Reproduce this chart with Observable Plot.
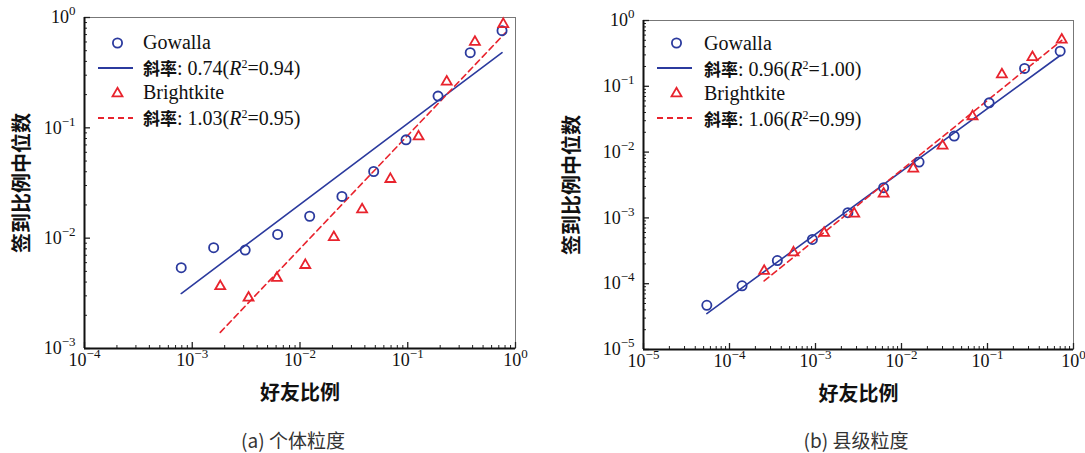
<!DOCTYPE html>
<html><head><meta charset="utf-8">
<script src="https://cdn.jsdelivr.net/npm/d3@7"></script>
<script src="https://cdn.jsdelivr.net/npm/@observablehq/plot@0.6"></script>
<style>
body{margin:0;background:#fff;}
#wrap{position:relative;width:1085px;height:453px;overflow:hidden;background:#fff;}
.panel{position:absolute;top:0;}
.legend{position:absolute;font-family:"Liberation Serif","Times New Roman",serif;font-size:20px;color:#111;}
.row{position:absolute;left:0;height:25px;display:flex;align-items:center;white-space:nowrap;}
.row svg{flex:none;}
.cjk{font-family:"Noto Sans CJK SC",sans-serif;font-weight:700;font-size:17px;}
.row sup{font-size:0.6em;vertical-align:0.55em;line-height:0;}
.caption{position:absolute;top:427px;font-family:"Noto Sans CJK SC",sans-serif;font-size:19px;line-height:26px;color:#333;transform:translateX(-50%);white-space:nowrap;}
</style></head><body><div id="wrap"></div>
<script>
// ---------- data ----------
const seriesNames = ["Gowalla", "Brightkite"];
const blue = "#2b3a9e", red = "#e8232d";

// (a) individual granularity
const gowallaIndX = [7.9e-4, 1.58e-3, 3.1e-3, 6.2e-3, 0.0123, 0.0245, 0.0483, 0.0964, 0.191, 0.38, 0.75];
const gowallaIndY = [5.4e-3, 8.2e-3, 7.8e-3, 0.0108, 0.0158, 0.0239, 0.0402, 0.0778, 0.194, 0.48, 0.76];
const brightIndX = [1.82e-3, 3.33e-3, 6.1e-3, 0.0112, 0.0206, 0.0377, 0.069, 0.126, 0.23, 0.42, 0.77];
const brightIndY = [3.66e-3, 2.88e-3, 4.35e-3, 5.7e-3, 0.0102, 0.0182, 0.0343, 0.0833, 0.262, 0.6, 0.87];
const gowallaIndFitX = [7.9e-4, 0.75];
const gowallaIndFitY = [3.15e-3, 0.48];
const brightIndFitX = [1.82e-3, 0.81];
const brightIndFitY = [1.4e-3, 0.73];
const indSlopes = ["0.74", "1.03"], indR2 = ["0.94", "0.95"];

// (b) county granularity
const gowallaCtyX = [5.45e-5, 1.4e-4, 3.6e-4, 9.2e-4, 2.38e-3, 6.2e-3, 0.016, 0.041, 0.1045, 0.27, 0.7];
const gowallaCtyY = [4.7e-5, 9.3e-5, 2.25e-4, 4.7e-4, 1.2e-3, 2.88e-3, 7.06e-3, 0.0175, 0.056, 0.187, 0.342];
const brightCtyX = [2.53e-4, 5.55e-4, 1.26e-3, 2.82e-3, 6.2e-3, 0.0137, 0.03, 0.067, 0.147, 0.333, 0.73];
const brightCtyY = [1.56e-4, 2.97e-4, 5.9e-4, 1.16e-3, 2.33e-3, 5.6e-3, 0.0125, 0.0349, 0.151, 0.277, 0.51];
const gowallaCtyFitX = [5.45e-5, 0.7];
const gowallaCtyFitY = [3.52e-5, 0.294];
const brightCtyFitX = [2.53e-4, 0.73];
const brightCtyFitY = [1.1e-4, 0.5];
const ctySlopes = ["0.96", "1.06"], ctyR2 = ["1.00", "0.99"];

const xTitle = "好友比例";
const yTitle = "签到比例中位数";
const captions = ["(a) 个体粒度", "(b) 县级粒度"];
const domainInd = {x: [1e-4, 1], y: [1e-3, 1]};
const domainCty = {x: [1e-5, 1], y: [1e-5, 1]};

// ---------- helpers ----------
const zip = (xs, ys) => xs.map((x, i) => ({x, y: ys[i]}));
const exps = dom => d3.range(Math.round(Math.log10(dom[0])), Math.round(Math.log10(dom[1])) + 1);
const major = dom => exps(dom).map(e => Math.pow(10, e));
const minor = dom => exps(dom).slice(0, -1).flatMap(e => d3.range(2, 10).map(m => m * Math.pow(10, e)));
const fmt = d => "10|" + String(Math.round(Math.log10(d))).replace("-", "−");

function makePanel(o) {
  const plot = Plot.plot({
    width: o.width, height: 415,
    marginLeft: o.ml, marginRight: o.mr, marginTop: o.mt, marginBottom: 415 - o.bottom,
    x: {type: "log", domain: o.dom.x},
    y: {type: "log", domain: o.dom.y},
    style: {fontFamily: "'Liberation Serif', 'Times New Roman', serif", fontSize: "18px", color: "#111", background: "white", overflow: "visible"},
    marks: [
      Plot.frame({stroke: "#777", strokeWidth: 1}),
      Plot.axisX({ticks: minor(o.dom.x), tickSize: 3, dy: -3, tickFormat: () => "", label: null, stroke: "#222"}),
      Plot.axisX({ticks: major(o.dom.x), tickSize: 6, dy: -6, tickFormat: () => "", label: null, stroke: "#222", strokeWidth: 1.3}),
      Plot.axisX({ticks: major(o.dom.x), tickSize: 0, tickPadding: 5, tickFormat: fmt, label: null}),
      Plot.axisY({ticks: minor(o.dom.y), tickSize: 3, dx: 3, tickFormat: () => "", label: null, stroke: "#222"}),
      Plot.axisY({ticks: major(o.dom.y), tickSize: 6, dx: 6, tickFormat: () => "", label: null, stroke: "#222", strokeWidth: 1.3}),
      Plot.axisY({ticks: major(o.dom.y), tickSize: 0, tickPadding: 9, tickFormat: fmt, label: null}),
      Plot.ruleX([o.dom.x[0]], {stroke: "#111", strokeWidth: 2}),
      Plot.ruleY([o.dom.y[0]], {stroke: "#111", strokeWidth: 2}),
      Plot.line(zip(o.gFitX, o.gFitY), {x: "x", y: "y", stroke: blue, strokeWidth: 1.6}),
      Plot.line(zip(o.bFitX, o.bFitY), {x: "x", y: "y", stroke: red, strokeWidth: 1.6, strokeDasharray: "6,4"}),
      Plot.dot(zip(o.gX, o.gY), {x: "x", y: "y", r: 4.6, stroke: blue, strokeWidth: 1.8, fill: "none"}),
      Plot.dot(zip(o.bX, o.bY), {x: "x", y: "y", r: 3.7, symbol: "triangle", stroke: red, strokeWidth: 1.8, fill: "none"}),
      Plot.text([yTitle], {text: d => d, frameAnchor: "left", dx: o.yTitleDx, rotate: -90, textAnchor: "middle", lineAnchor: "middle", fontSize: 20, fontWeight: "bold", fontFamily: "'Noto Sans CJK SC', sans-serif", fill: "#111"}),
      Plot.text([xTitle], {text: d => d, frameAnchor: "bottom", dy: 45, textAnchor: "middle", lineAnchor: "middle", fontSize: 20, fontWeight: "bold", fontFamily: "'Noto Sans CJK SC', sans-serif", fill: "#111"})
    ]
  });
  // superscript exponents
  d3.select(plot).selectAll("text").each(function() {
    const t = this.textContent;
    if (t.includes("|")) {
      const [base, ex] = t.split("|");
      const sel = d3.select(this);
      sel.text(base);
      sel.append("tspan").attr("dy", "-8").attr("font-size", "13").text(ex);
    }
  });
  plot.classList.add("panel");
  plot.style.left = o.left + "px";
  return plot;
}

function legend(top, lineLeft, slopes, r2, textGap) {
  const div = document.createElement("div");
  div.className = "legend";
  div.style.left = lineLeft + "px";
  div.style.top = top + "px";
  const sw = 35;
  const sym = {
    circle: `<svg width="${sw}" height="20"><circle cx="${sw/2+2}" cy="10" r="4.6" fill="none" stroke="${blue}" stroke-width="1.8"/></svg>`,
    solid: `<svg width="${sw}" height="20"><line x1="0" x2="${sw}" y1="10" y2="10" stroke="${blue}" stroke-width="1.8"/></svg>`,
    tri: `<svg width="${sw}" height="20"><path d="${d3.symbol(d3.symbolTriangle, Math.PI*3.7*3.7)()}" transform="translate(${sw/2+2},10.5)" fill="none" stroke="${red}" stroke-width="1.8"/></svg>`,
    dash: `<svg width="${sw}" height="20"><line x1="0" x2="${sw}" y1="10" y2="10" stroke="${red}" stroke-width="1.8" stroke-dasharray="6,4"/></svg>`
  };
  const fitText = (s, r) => `<span class="cjk">斜率</span>: ${s}(<i>R</i><sup>2</sup>=${r})`;
  const rows = [
    [sym.circle, seriesNames[0]],
    [sym.solid, fitText(slopes[0], r2[0])],
    [sym.tri, seriesNames[1]],
    [sym.dash, fitText(slopes[1], r2[1])]
  ];
  div.innerHTML = rows.map((r, i) => `<div class="row" style="top:${i*25}px">${r[0]}<span style="margin-left:${textGap}px">${r[1]}</span></div>`).join("");
  return div;
}

const wrap = document.getElementById("wrap");
wrap.appendChild(makePanel({
  left: 0, width: 540, ml: 84, mr: 25, mt: 17, bottom: 348, dom: domainInd, yTitleDx: -62,
  gX: gowallaIndX, gY: gowallaIndY, bX: brightIndX, bY: brightIndY,
  gFitX: gowallaIndFitX, gFitY: gowallaIndFitY, bFitX: brightIndFitX, bFitY: brightIndFitY
}));
wrap.appendChild(makePanel({
  left: 545, width: 540, ml: 98, mr: 12, mt: 20, bottom: 349, dom: domainCty, yTitleDx: -71,
  gX: gowallaCtyX, gY: gowallaCtyY, bX: brightCtyX, bY: brightCtyY,
  gFitX: gowallaCtyFitX, gFitY: gowallaCtyFitY, bFitX: brightCtyFitX, bFitY: brightCtyFitY
}));
wrap.appendChild(legend(30, 98, indSlopes, indR2, 10));
wrap.appendChild(legend(30.5, 657, ctySlopes, ctyR2, 12));
captions.forEach((c, i) => {
  const d = document.createElement("div");
  d.className = "caption";
  d.style.left = (i === 0 ? 293 : 856) + "px";
  d.textContent = c;
  wrap.appendChild(d);
});
</script></body></html>
